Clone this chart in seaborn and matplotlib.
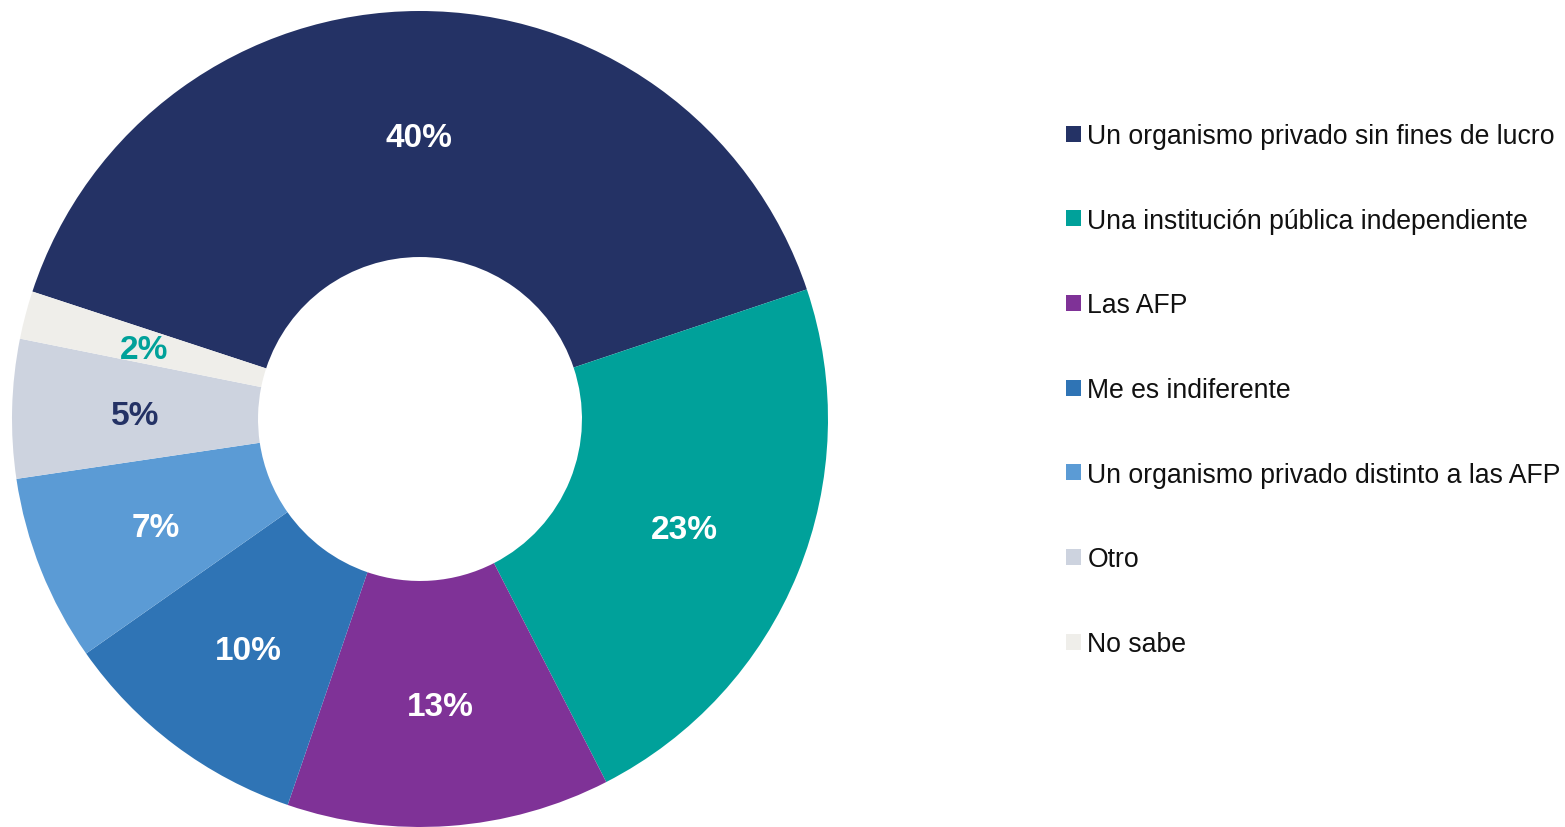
import matplotlib
matplotlib.use("Agg")
import matplotlib.pyplot as plt
import seaborn as sns
import numpy as np

# CONFIG
sns.set_theme(style="white")
plt.rcParams["font.family"] = ["Liberation Sans", "DejaVu Sans"]

# DATA
categories = [
    "Un organismo privado sin fines de lucro",
    "Una institución pública independiente",
    "Las AFP",
    "Me es indiferente",
    "Un organismo privado distinto a las AFP",
    "Otro",
    "No sabe",
]
shares = [39.8, 22.6, 12.8, 10.0, 7.4, 5.5, 1.9]
pct_labels = ["40%", "23%", "13%", "10%", "7%", "5%", "2%"]

colors = sns.color_palette(["#243265", "#00A19A", "#7F3297", "#2F74B5",
                            "#5B9BD5", "#CDD3DF", "#EFEEEA"])
label_colors = ["white", "white", "white", "white", "white", "#243265", "#00A19A"]

# FIGURE
fig = plt.figure(figsize=(15.65, 8.28), dpi=100)
ax = fig.add_axes([12 / 1565, 0, 816 / 1565, 816 / 828])

ring = 0.603
wedges, _ = ax.pie(
    shares,
    colors=colors,
    startangle=161.8,
    counterclock=False,
    radius=1.0,
    wedgeprops=dict(width=ring, linewidth=0),
)
ax.set_xlim(-1, 1)
ax.set_ylim(-1, 1)
ax.set_aspect("equal")

# percentage labels in the middle of the ring
r_lab = 1.0 - ring / 2
for w, txt, c in zip(wedges, pct_labels, label_colors):
    mid = np.deg2rad((w.theta1 + w.theta2) / 2)
    ax.text(r_lab * np.cos(mid), r_lab * np.sin(mid) - 0.008, txt,
            ha="center", va="center", fontsize=24, fontweight="bold", color=c)

# LEGEND
fig.legend(
    wedges, categories,
    loc="upper left",
    bbox_to_anchor=(1066 / 1565, 1 - 124 / 828),
    frameon=False,
    fontsize=19.2,
    labelspacing=2.2,
    handlelength=0.55,
    handleheight=0.55,
    handletextpad=0.25,
    borderpad=0,
    borderaxespad=0,
    labelcolor="#111111",
)

fig.savefig("out.png", dpi=100, facecolor="white")
